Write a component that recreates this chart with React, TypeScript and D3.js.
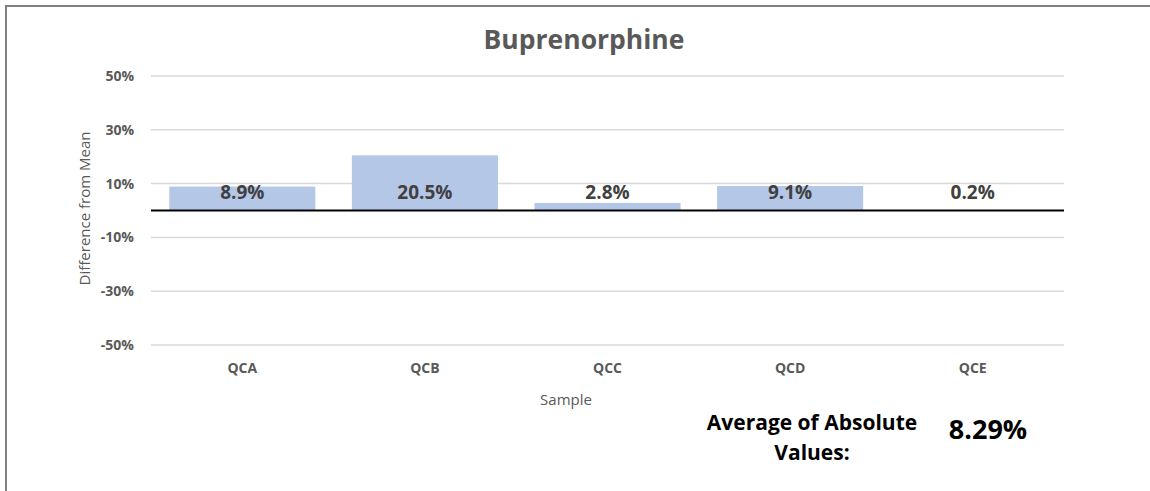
import React from 'react';
import * as d3 from 'd3';

const samples = ['QCA', 'QCB', 'QCC', 'QCD', 'QCE'];
const diffs = [8.9, 20.5, 2.8, 9.1, 0.2];
const yTicks = [-50, -30, -10, 10, 30, 50];
const title = 'Buprenorphine';
const average = '8.29%';

const width = 1150;
const height = 491;
const margins = { l: 151, t: 76, r: 86, b: 146 };
const plotwidth = width - margins.l - margins.r;
const plotheight = height - margins.t - margins.b;

const font = '"Open Sans", sans-serif';

const App = () => {
  const xScale = d3
    .scaleBand()
    .domain(samples)
    .range([0, plotwidth])
    .paddingInner(0.2)
    .paddingOuter(0.1);

  const yScale = d3.scaleLinear().domain([-50, 50]).range([plotheight, 0]);

  return (
    <svg
      width={width}
      height={height}
      style={{ position: 'absolute', left: 0, top: 0, background: '#fff' }}
    >
      {/* frame */}
      <line x1={5} x2={width} y1={6} y2={6} stroke="#7f7f7f" strokeWidth={2} />
      <line x1={6} x2={6} y1={5} y2={height} stroke="#7f7f7f" strokeWidth={2} />

      <text
        x={584}
        y={49}
        textAnchor="middle"
        fontFamily={font}
        fontWeight="bold"
        fontSize={26.5}
        fill="#595959"
      >
        {title}
      </text>

      <g transform={`translate(${margins.l},${margins.t})`}>
        {yTicks.map(t => (
          <g key={t}>
            <line
              x1={0}
              x2={plotwidth}
              y1={yScale(t)}
              y2={yScale(t)}
              stroke="#d9d9d9"
              strokeWidth={1.5}
            />
            <text
              x={-17}
              y={yScale(t)}
              dy="0.35em"
              textAnchor="end"
              fontFamily={font}
              fontWeight="bold"
              fontSize={14}
              fill="#595959"
            >
              {`${t}%`}
            </text>
          </g>
        ))}

        {samples.map((s, i) => (
          <g key={s}>
            <rect
              x={xScale(s)}
              width={xScale.bandwidth()}
              y={yScale(Math.max(0, diffs[i]))}
              height={Math.abs(yScale(diffs[i]) - yScale(0))}
              fill="#b4c7e7"
            />
            <text
              x={xScale(s) + xScale.bandwidth() / 2}
              y={yScale(0) - 12}
              textAnchor="middle"
              fontFamily={font}
              fontWeight="bold"
              fontSize={19}
              fill="#404040"
            >
              {`${diffs[i].toFixed(1)}%`}
            </text>
            <text
              x={xScale(s) + xScale.bandwidth() / 2}
              y={plotheight + 28}
              textAnchor="middle"
              fontFamily={font}
              fontWeight="bold"
              fontSize={14}
              fill="#595959"
            >
              {s}
            </text>
          </g>
        ))}

        <line
          x1={0}
          x2={plotwidth}
          y1={yScale(0)}
          y2={yScale(0)}
          stroke="#000"
          strokeWidth={2}
        />
      </g>

      <text
        x={566}
        y={405}
        textAnchor="middle"
        fontFamily={font}
        fontSize={15}
        fill="#595959"
      >
        Sample
      </text>
      <text
        transform={`translate(90,${margins.t + yScale(0) - 2}) rotate(-90)`}
        textAnchor="middle"
        fontFamily={font}
        fontSize={15}
        fill="#595959"
      >
        Difference from Mean
      </text>

      <text
        x={812}
        y={430}
        textAnchor="middle"
        fontFamily={font}
        fontWeight="bold"
        fontSize={21}
        fill="#000"
      >
        <tspan x={812}>Average of Absolute</tspan>
        <tspan x={812} dy={30}>
          Values:
        </tspan>
      </text>
      <text
        x={988}
        y={439}
        textAnchor="middle"
        fontFamily={font}
        fontWeight="bold"
        fontSize={27}
        fill="#000"
      >
        {average}
      </text>
    </svg>
  );
};

export default App;
